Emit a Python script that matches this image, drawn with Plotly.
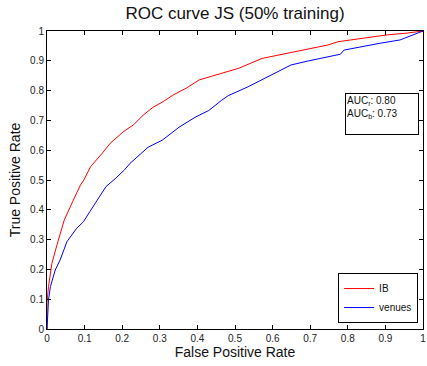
import plotly.graph_objects as go

# IB (red) ROC curve
ib_fpr = [0, 0, 0.004, 0.013, 0.026, 0.046, 0.068, 0.089, 0.098, 0.116, 0.147, 0.168,
          0.203, 0.23, 0.256, 0.282, 0.309, 0.335, 0.37, 0.405, 0.44, 0.476, 0.51,
          0.572, 0.616, 0.686, 0.747, 0.774, 0.835, 0.905, 0.958, 1]
ib_tpr = [0, 0.09, 0.142, 0.22, 0.28, 0.366, 0.427, 0.483, 0.5, 0.545, 0.59, 0.623,
          0.662, 0.685, 0.718, 0.744, 0.763, 0.785, 0.808, 0.836, 0.849, 0.863, 0.875,
          0.908, 0.919, 0.936, 0.953, 0.964, 0.975, 0.987, 0.993, 1]

# venues (blue) ROC curve
ven_fpr = [0, 0.002, 0.004, 0.009, 0.022, 0.035, 0.053, 0.079, 0.097, 0.114, 0.157,
           0.183, 0.206, 0.221, 0.269, 0.307, 0.351, 0.396, 0.43, 0.465, 0.482, 0.535,
           0.588, 0.614, 0.649, 0.693, 0.746, 0.78, 0.79, 0.834, 0.886, 0.939, 0.975, 1]
ven_tpr = [0, 0.05, 0.097, 0.142, 0.198, 0.232, 0.293, 0.338, 0.36, 0.394, 0.478,
           0.506, 0.534, 0.556, 0.61, 0.634, 0.677, 0.712, 0.733, 0.768, 0.783, 0.813,
           0.847, 0.863, 0.886, 0.899, 0.914, 0.922, 0.936, 0.947, 0.959, 0.97, 0.987, 1]

series_names = ["IB", "venues"]
auc_r = 0.80
auc_b = 0.73
tick_vals = [i / 10 for i in range(11)]
tick_text = ["0", "0.1", "0.2", "0.3", "0.4", "0.5", "0.6", "0.7", "0.8", "0.9", "1"]

FONT = "Liberation Sans, Arial, Helvetica, sans-serif"

fig = go.Figure()
fig.add_trace(go.Scatter(x=ib_fpr, y=ib_tpr, mode="lines", name=series_names[0],
                         line=dict(color="#ff0000", width=1)))
fig.add_trace(go.Scatter(x=ven_fpr, y=ven_tpr, mode="lines", name=series_names[1],
                         line=dict(color="#0000ff", width=1)))

axis_common = dict(
    range=[0, 1], tickvals=tick_vals, ticktext=tick_text,
    ticks="inside", ticklen=4, tickcolor="black", tickwidth=1,
    showline=True, linecolor="black", linewidth=1, mirror="ticks",
    showgrid=False, zeroline=False, ticklabeloverflow="allow",
    tickfont=dict(family=FONT, size=10, color="#222"),
)

fig.update_layout(
    width=427, height=366,
    margin=dict(l=47, r=1, t=31, b=37),
    paper_bgcolor="white", plot_bgcolor="white",
    font=dict(family=FONT, color="#111"),
    title=dict(text="ROC curve JS (50% training)", x=0.5, xref="paper",
               y=1 - 13 / 366, yref="container", xanchor="center", yanchor="middle",
               font=dict(family=FONT, size=17, color="#111")),
    xaxis=dict(axis_common, title=dict(text="False Positive Rate", standoff=4,
                                       font=dict(family=FONT, size=14, color="#111"))),
    yaxis=dict(axis_common, title=dict(text="True Positive Rate", standoff=6,
                                       font=dict(family=FONT, size=14, color="#111"))),
    legend=dict(x=0.987, y=0.02, xanchor="right", yanchor="bottom",
                bordercolor="black", borderwidth=1, bgcolor="white",
                font=dict(family=FONT, size=10, color="#111"),
                itemwidth=30, tracegroupgap=0),
    showlegend=True,
)

fig.add_annotation(
    text=f"AUC<sub>r</sub>: {auc_r:.2f}<br>AUC<sub>b</sub>: {auc_b:.2f}",
    xref="paper", yref="paper", x=0.892, y=0.7215, xanchor="center", yanchor="middle",
    showarrow=False, align="left", valign="top", width=70, height=38,
    bordercolor="black", borderwidth=1, bgcolor="white", borderpad=1,
    font=dict(family=FONT, size=10, color="#111"),
)

fig.write_html("out.html", config={"displayModeBar": False},
               post_script="document.body.style.margin='0';document.body.style.overflow='hidden';")
